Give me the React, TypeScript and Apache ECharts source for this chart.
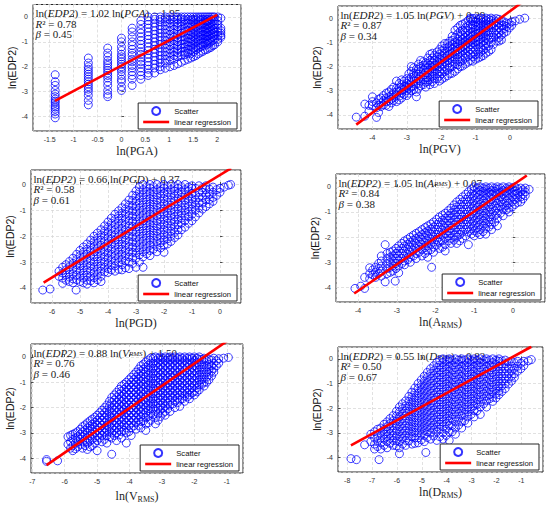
import React, { useEffect, useRef } from "react";
import * as echarts from "echarts";

// ---------- DATA ----------
// Each column: [x, y1, y2, ...]
const pgaCols: number[][] = [
  [-1.386, -2.32, -2.6, -2.75, -2.95, -3.1, -3.2, -3.3, -3.38, -3.45, -3.55, -3.62, -3.7, -3.8, -3.9, -4.05],
  [-0.693, -1.65, -1.85, -2.0, -2.1, -2.2, -2.3, -2.4, -2.5, -2.6, -2.7, -2.8, -2.9, -3.0, -3.15, -3.35, -3.53],
  [-0.288, -1.25, -1.45, -1.6, -1.75, -1.85, -1.95, -2.05, -2.15, -2.25, -2.35, -2.45, -2.6, -2.75, -2.95, -3.1, -3.2],
  [0, -0.85, -1.0, -1.2, -1.35, -1.5, -1.6, -1.7, -1.8, -1.9, -2.0, -2.1, -2.2, -2.35, -2.5, -2.6, -2.8, -2.95],
  [0.223, -0.45, -0.6, -0.8, -1.0, -1.15, -1.3, -1.45, -1.55, -1.7, -1.8, -1.95, -2.05, -2.2, -2.35, -2.5, -2.75],
  [0.405, -0.15, -0.3, -0.5, -0.65, -0.8, -0.95, -1.1, -1.25, -1.4, -1.5, -1.65, -1.8, -1.9, -2.05, -2.2, -2.35, -2.5],
  [0.56, 0, -0.15, -0.3, -0.45, -0.6, -0.75, -0.9, -1.05, -1.2, -1.35, -1.5, -1.65, -1.8, -1.95, -2.1, -2.25, -2.35],
  [0.693, 0, -0.1, -0.25, -0.4, -0.55, -0.7, -0.85, -1.0, -1.15, -1.3, -1.45, -1.6, -1.75, -1.9, -2.05, -2.25],
  [0.811, 0, -0.1, -0.2, -0.35, -0.5, -0.65, -0.8, -0.95, -1.1, -1.25, -1.4, -1.55, -1.7, -1.85, -2.0, -2.12],
  [0.916, 0, -0.08, -0.2, -0.35, -0.5, -0.65, -0.8, -0.95, -1.1, -1.25, -1.4, -1.55, -1.7, -1.85, -2.06],
  [1.012, 0, -0.1, -0.25, -0.4, -0.55, -0.7, -0.85, -1.0, -1.15, -1.3, -1.45, -1.6, -1.75, -2.0],
  [1.099, 0, -0.1, -0.2, -0.35, -0.5, -0.65, -0.8, -0.95, -1.1, -1.25, -1.4, -1.55, -1.7, -1.95],
  [1.179, 0, -0.1, -0.25, -0.4, -0.55, -0.7, -0.85, -1.0, -1.15, -1.3, -1.45, -1.6, -1.88],
  [1.253, 0, -0.08, -0.2, -0.35, -0.5, -0.65, -0.8, -0.95, -1.1, -1.25, -1.4, -1.55, -1.82],
  [1.32, 0, -0.12, -0.28, -0.45, -0.6, -0.78, -0.92, -1.08, -1.22, -1.38, -1.52, -1.75],
  [1.386, 0, -0.1, -0.25, -0.4, -0.55, -0.7, -0.85, -1.0, -1.15, -1.3, -1.45, -1.7],
  [1.447, 0, -0.12, -0.28, -0.42, -0.58, -0.72, -0.88, -1.02, -1.18, -1.32, -1.48, -1.65],
  [1.504, 0, -0.1, -0.2, -0.35, -0.5, -0.65, -0.8, -0.95, -1.1, -1.25, -1.4, -1.6],
  [1.558, 0, -0.12, -0.28, -0.42, -0.58, -0.72, -0.88, -1.02, -1.18, -1.32, -1.55],
  [1.609, 0, -0.08, -0.2, -0.35, -0.5, -0.65, -0.8, -0.95, -1.1, -1.25, -1.48],
  [1.658, 0, -0.12, -0.3, -0.45, -0.6, -0.75, -0.9, -1.05, -1.2, -1.42],
  [1.705, 0, -0.1, -0.25, -0.4, -0.55, -0.7, -0.85, -1.0, -1.15, -1.38],
  [1.749, 0, -0.15, -0.3, -0.45, -0.6, -0.75, -0.9, -1.05, -1.32],
  [1.792, 0, -0.1, -0.2, -0.35, -0.5, -0.65, -0.8, -0.95, -1.1, -1.3],
  [1.833, 0, -0.15, -0.3, -0.45, -0.6, -0.75, -0.9, -1.05, -1.25],
  [1.872, 0, -0.1, -0.25, -0.4, -0.55, -0.7, -0.85, -1.0, -1.22],
  [1.91, 0, -0.18, -0.35, -0.5, -0.65, -0.8, -0.95, -1.15],
  [1.946, 0, -0.15, -0.3, -0.45, -0.6, -0.75, -0.9, -1.12],
  [2.015, 0, -0.15, -0.3, -0.45, -0.6, -0.75, -0.9, -1.0],
  [2.079, -0.05, -0.45, -0.55, -0.65, -0.75, -0.82],
];

const pgvCols: number[][] = [
  [-4.47, -4.09],
  [-4.22, -4.05, -3.55],
  [-4.1, -3.6, -3.85],
  [-4.0, -3.25, -3.45, -3.62],
  [-3.88, -4.1, -3.5, -3.7],
  [-3.82, -3.35, -3.6, -3.9],
  [-3.75, -3.3, -3.5, -3.65],
  [-3.68, -3.2, -3.42, -3.58],
  [-3.6, -3.1, -3.3, -3.45, -3.6],
  [-3.52, -3.05, -3.25, -3.42, -3.65],
  [-3.45, -2.95, -3.2, -3.35, -3.5],
  [-3.38, -2.85, -3.08, -3.28, -3.4],
  [-3.3, -2.6, -2.9, -3.05, -3.2, -3.45],
  [-3.22, -2.7, -2.88, -3.02, -3.22, -3.38],
  [-3.15, -2.55, -2.75, -2.95, -3.1, -3.3],
  [-3.08, -2.6, -2.82, -2.95, -3.15],
  [-3.0, -2.5, -2.7, -2.85, -3.0, -3.2],
  [-2.94, -2.3, -2.55, -2.75, -2.9, -3.1],
  [-2.87, -2.0, -2.2, -2.45, -2.65, -2.85, -3.0],
  [-2.8, -2.05, -2.28, -2.42, -2.6, -2.8, -2.95],
  [-2.72, -2.1, -2.3, -2.5, -2.7, -3.05, -3.25],
  [-2.66, -1.9, -2.12, -2.32, -2.52, -2.7, -2.9],
  [-2.6, -1.75, -2.0, -2.2, -2.4, -2.6, -2.8],
  [-2.52, -1.8, -1.95, -2.15, -2.35, -2.55, -2.75],
  [-2.45, -1.85, -2.05, -2.25, -2.45, -2.65, -2.85],
  [-2.39, -1.65, -1.88, -2.05, -2.25, -2.45, -2.62],
  [-2.33, -1.5, -1.75, -1.95, -2.15, -2.35, -2.55, -2.75],
  [-2.26, -1.45, -1.65, -1.85, -2.02, -2.2, -2.4, -2.62],
  [-2.2, -1.55, -1.75, -1.95, -2.1, -2.3, -2.5, -2.7],
  [-2.12, -1.4, -1.6, -1.78, -1.95, -2.12, -2.3, -2.5],
  [-2.05, -1.3, -1.5, -1.7, -1.85, -2.0, -2.2, -2.4, -2.6],
  [-1.98, -1.15, -1.35, -1.55, -1.72, -1.9, -2.1, -2.3, -2.52],
  [-1.9, -1.05, -1.25, -1.45, -1.65, -1.8, -2.0, -2.2, -2.45],
  [-1.82, -1.05, -1.22, -1.42, -1.58, -1.75, -1.95, -2.15, -2.38],
  [-1.75, -0.95, -1.15, -1.35, -1.5, -1.65, -1.85, -2.05, -2.3],
  [-1.68, -0.75, -0.92, -1.1, -1.28, -1.45, -1.6, -1.8, -2.0, -2.28],
  [-1.6, -0.5, -0.8, -1.0, -1.2, -1.35, -1.5, -1.7, -1.9, -2.2],
  [-1.52, -0.4, -0.65, -0.88, -1.05, -1.18, -1.32, -1.5, -1.7, -1.92, -2.1],
  [-1.45, -0.3, -0.55, -0.75, -0.95, -1.1, -1.25, -1.4, -1.6, -1.8, -2.0],
  [-1.38, -0.25, -0.5, -0.7, -0.88, -1.02, -1.18, -1.35, -1.55, -1.75, -1.98],
  [-1.3, -0.2, -0.4, -0.6, -0.8, -0.95, -1.1, -1.25, -1.45, -1.65, -1.9],
  [-1.22, -0.1, -0.32, -0.52, -0.72, -0.88, -1.02, -1.2, -1.38, -1.58, -1.82],
  [-1.15, 0, -0.05, -0.25, -0.45, -0.65, -0.8, -0.95, -1.1, -1.3, -1.5, -1.75],
  [-1.08, -0.02, -0.12, -0.28, -0.42, -0.58, -0.72, -0.88, -1.02, -1.2, -1.4, -1.6, -1.78],
  [-1.0, 0, -0.15, -0.35, -0.5, -0.65, -0.8, -0.95, -1.1, -1.3, -1.5, -1.7],
  [-0.92, -0.05, -0.2, -0.32, -0.48, -0.62, -0.78, -0.92, -1.08, -1.28, -1.48, -1.65],
  [-0.85, 0, -0.1, -0.25, -0.4, -0.55, -0.7, -0.85, -1.0, -1.2, -1.4, -1.6],
  [-0.78, -0.03, -0.18, -0.32, -0.48, -0.62, -0.78, -0.95, -1.12, -1.32, -1.55],
  [-0.7, 0, -0.1, -0.25, -0.4, -0.55, -0.7, -0.85, -1.05, -1.25, -1.45],
  [-0.62, -0.05, -0.18, -0.32, -0.5, -0.7, -0.9, -1.15, -1.38],
  [-0.55, 0, -0.1, -0.25, -0.4, -0.6, -0.8, -1.0, -1.3],
  [-0.48, -0.06, -0.22, -0.4, -0.6, -0.8, -1.08],
  [-0.4, -0.02, -0.15, -0.3, -0.5, -0.7, -0.95],
  [-0.32, -0.05, -0.2, -0.4, -0.6, -0.8, -0.95],
  [-0.25, -0.1, -0.3, -0.5, -0.7, -0.9],
  [-0.18, -0.15, -0.3, -0.45, -0.62],
  [-0.1, -0.2, -0.35, -0.55],
  [-0.02, -0.22, -0.4],
  [0.05, -0.15, -0.3],
  [0.15, -0.12],
  [0.28, -0.05],
  [0.43, 0],
];

const pgdCols: number[][] = [
  [-6.33, -4.08],
  [-6.07, -4.04],
  [-5.75, -3.35, -3.55],
  [-5.62, -3.2, -3.42, -3.62, -3.82],
  [-5.5, -3.1, -3.3, -3.5, -3.7],
  [-5.38, -2.98, -3.18, -3.38, -3.58, -3.75],
  [-5.25, -2.85, -3.05, -3.25, -3.45, -3.65, -3.8],
  [-5.14, -4.08],
  [-5.12, -2.7, -2.9, -3.1, -3.3, -3.5, -3.68],
  [-5.0, -2.55, -2.75, -2.95, -3.15, -3.35, -3.55, -3.75],
  [-4.88, -2.42, -2.62, -2.82, -3.02, -3.22, -3.42, -3.62, -3.8],
  [-4.75, -2.3, -2.5, -2.7, -2.9, -3.1, -3.3, -3.5, -3.7, -3.85],
  [-4.62, -2.15, -2.35, -2.55, -2.75, -2.95, -3.15, -3.35, -3.55, -3.72],
  [-4.5, -2.0, -2.2, -2.4, -2.6, -2.8, -3.0, -3.2, -3.4, -3.6, -3.8],
  [-4.38, -1.88, -2.08, -2.28, -2.48, -2.68, -2.88, -3.08, -3.28, -3.48, -3.68],
  [-4.25, -1.75, -1.95, -2.15, -2.35, -2.55, -2.75, -2.95, -3.15, -3.35, -3.55, -3.75],
  [-4.12, -1.6, -1.8, -2.0, -2.2, -2.4, -2.6, -2.8, -3.0, -3.2, -3.38],
  [-4.0, -1.45, -1.65, -1.85, -2.05, -2.25, -2.45, -2.65, -2.85, -3.05, -3.25, -3.4],
  [-3.88, -1.3, -1.5, -1.7, -1.9, -2.1, -2.3, -2.5, -2.7, -2.9, -3.1, -3.3],
  [-3.75, -1.15, -1.35, -1.55, -1.75, -1.95, -2.15, -2.35, -2.55, -2.75, -2.95, -3.15, -3.35],
  [-3.62, -1.02, -1.22, -1.42, -1.62, -1.82, -2.02, -2.22, -2.42, -2.62, -2.82, -3.02, -3.28],
  [-3.5, -0.9, -1.1, -1.3, -1.5, -1.7, -1.9, -2.1, -2.3, -2.5, -2.7, -2.9, -3.1, -3.3],
  [-3.38, -0.75, -0.95, -1.15, -1.35, -1.55, -1.75, -1.95, -2.15, -2.35, -2.55, -2.75, -2.95, -3.22],
  [-3.25, -0.6, -0.8, -1.0, -1.2, -1.4, -1.6, -1.8, -2.0, -2.2, -2.4, -2.6, -2.8, -3.0, -3.25],
  [-3.12, -0.42, -0.62, -0.82, -1.02, -1.22, -1.42, -1.62, -1.82, -2.02, -2.22, -2.42, -2.62, -2.82, -3.05],
  [-3.0, -0.25, -0.45, -0.65, -0.85, -1.05, -1.25, -1.45, -1.65, -1.85, -2.05, -2.25, -2.45, -2.65, -2.85, -3.2],
  [-2.88, -0.1, -0.3, -0.5, -0.72, -0.92, -1.12, -1.32, -1.52, -1.72, -1.92, -2.12, -2.32, -2.52, -2.72, -3.0],
  [-2.75, 0, -0.2, -0.4, -0.6, -0.8, -1.0, -1.2, -1.4, -1.6, -1.8, -2.0, -2.2, -2.4, -2.6, -2.8, -3.2],
  [-2.62, -0.08, -0.28, -0.48, -0.68, -0.88, -1.08, -1.28, -1.48, -1.68, -1.88, -2.08, -2.28, -2.48, -2.68],
  [-2.5, 0, -0.15, -0.35, -0.55, -0.75, -0.95, -1.15, -1.35, -1.55, -1.75, -1.95, -2.15, -2.35, -2.55, -2.75],
  [-2.38, -0.08, -0.28, -0.48, -0.68, -0.88, -1.08, -1.28, -1.48, -1.68, -1.88, -2.08, -2.28, -2.5],
  [-2.25, 0, -0.2, -0.4, -0.6, -0.8, -1.0, -1.2, -1.4, -1.6, -1.8, -2.0, -2.2, -2.4, -2.6],
  [-2.12, -0.08, -0.25, -0.45, -0.65, -0.85, -1.05, -1.25, -1.45, -1.65, -1.85, -2.05, -2.25, -2.45],
  [-2.0, 0, -0.15, -0.35, -0.55, -0.75, -0.95, -1.15, -1.35, -1.55, -1.75, -1.95, -2.15, -2.35, -2.62],
  [-1.88, -0.08, -0.3, -0.5, -0.7, -0.9, -1.1, -1.3, -1.5, -1.7, -1.9, -2.1, -2.3],
  [-1.75, 0, -0.2, -0.4, -0.6, -0.8, -1.0, -1.2, -1.4, -1.6, -1.8, -2.0, -2.2],
  [-1.62, -0.08, -0.25, -0.45, -0.65, -0.85, -1.05, -1.25, -1.45, -1.65, -1.85, -2.05],
  [-1.5, 0, -0.15, -0.35, -0.55, -0.75, -0.95, -1.15, -1.35, -1.55, -1.75, -1.95],
  [-1.38, -0.08, -0.3, -0.5, -0.7, -0.9, -1.1, -1.3, -1.5, -1.75],
  [-1.25, 0, -0.2, -0.4, -0.6, -0.8, -1.0, -1.2, -1.4, -1.65],
  [-1.12, -0.1, -0.25, -0.45, -0.65, -0.85, -1.05, -1.25, -1.5],
  [-1.0, -0.05, -0.15, -0.35, -0.55, -0.75, -0.95, -1.15, -1.4],
  [-0.88, -0.15, -0.4, -0.6, -0.8, -1.0, -1.25],
  [-0.75, -0.05, -0.3, -0.5, -0.7, -0.9, -1.1],
  [-0.62, -0.12, -0.3, -0.5, -0.72, -0.95],
  [-0.5, -0.05, -0.2, -0.4, -0.6, -0.85],
  [-0.38, -0.18, -0.38, -0.58, -0.75],
  [-0.25, -0.1, -0.3, -0.5, -0.65],
  [-0.12, -0.2, -0.42],
  [0.0, -0.15, -0.3],
  [0.15, -0.1],
  [0.3, -0.03],
  [0.38, 0],
];

const armsCols: number[][] = [
  [-4.08, -4.04],
  [-3.93, -3.95],
  [-3.83, -4.04, -3.6],
  [-3.7, -3.22, -3.45, -3.65],
  [-3.62, -3.3, -3.5],
  [-3.55, -3.2, -3.4, -3.6],
  [-3.47, -3.05, -3.25, -3.45],
  [-3.4, -2.75, -2.95, -3.15, -3.35, -3.55],
  [-3.3, -2.3, -3.78],
  [-3.25, -2.65, -2.85, -3.05, -3.25, -3.45],
  [-3.17, -2.6, -2.8, -3.0, -3.2, -3.4],
  [-3.1, -2.55, -2.75, -2.95, -3.15, -3.35],
  [-3.04, -3.75],
  [-3.02, -2.45, -2.65, -2.85, -3.05, -3.25],
  [-2.95, -2.35, -2.55, -2.75, -2.95, -3.15, -3.42],
  [-2.87, -2.25, -2.45, -2.65, -2.85, -3.05],
  [-2.8, -2.15, -2.35, -2.55, -2.75, -2.95, -3.1],
  [-2.72, -2.08, -2.28, -2.48, -2.68, -2.9],
  [-2.65, -2.0, -2.2, -2.4, -2.6, -2.8, -3.0],
  [-2.57, -1.92, -2.12, -2.32, -2.52, -2.75],
  [-2.5, -1.85, -2.05, -2.25, -2.45, -2.65, -2.85],
  [-2.42, -1.78, -1.98, -2.18, -2.38, -2.6],
  [-2.35, -1.7, -1.9, -2.1, -2.3, -2.5, -2.75],
  [-2.27, -1.62, -1.82, -2.02, -2.22, -2.42, -2.65],
  [-2.2, -1.55, -1.75, -1.95, -2.15, -2.35, -2.55, -2.8],
  [-2.12, -1.48, -1.68, -1.88, -2.08, -2.28, -2.5],
  [-2.1, -3.2],
  [-2.05, -1.4, -1.6, -1.8, -2.0, -2.2, -2.4, -2.6],
  [-1.97, -1.3, -1.5, -1.7, -1.9, -2.1, -2.32],
  [-1.9, -1.2, -1.4, -1.6, -1.8, -2.0, -2.2, -2.45],
  [-1.82, -1.12, -1.32, -1.52, -1.72, -1.92, -2.15, -2.4],
  [-1.75, -1.05, -1.25, -1.45, -1.65, -1.85, -2.05, -2.3, -2.55],
  [-1.67, -0.95, -1.15, -1.35, -1.55, -1.75, -1.95, -2.15],
  [-1.6, -0.85, -1.05, -1.25, -1.45, -1.65, -1.85, -2.05, -2.25],
  [-1.52, -0.72, -0.92, -1.12, -1.32, -1.52, -1.72, -1.92, -2.12],
  [-1.45, -0.6, -0.8, -1.0, -1.2, -1.4, -1.6, -1.8, -2.0, -2.25],
  [-1.37, -0.5, -0.7, -0.9, -1.1, -1.3, -1.5, -1.7, -1.9, -2.15],
  [-1.3, -0.4, -0.6, -0.8, -1.0, -1.2, -1.4, -1.6, -1.8, -2.05],
  [-1.22, -0.3, -0.5, -0.7, -0.9, -1.1, -1.3, -1.5, -1.7, -1.95],
  [-1.15, -0.2, -0.4, -0.6, -0.8, -1.0, -1.2, -1.4, -1.6, -1.8, -2.3],
  [-1.07, -0.08, -0.28, -0.48, -0.68, -0.88, -1.08, -1.28, -1.48, -1.68, -1.88],
  [-1.0, 0, -0.15, -0.35, -0.55, -0.75, -0.95, -1.15, -1.35, -1.55, -1.75, -1.95],
  [-0.92, -0.05, -0.22, -0.42, -0.62, -0.82, -1.02, -1.22, -1.42, -1.62, -1.82],
  [-0.85, 0, -0.15, -0.3, -0.5, -0.7, -0.9, -1.1, -1.3, -1.5, -1.7, -1.9],
  [-0.77, -0.05, -0.18, -0.35, -0.55, -0.75, -0.95, -1.15, -1.35, -1.55, -1.78],
  [-0.7, 0, -0.1, -0.25, -0.45, -0.65, -0.85, -1.05, -1.25, -1.45, -1.65, -1.88],
  [-0.62, -0.05, -0.22, -0.4, -0.6, -0.8, -1.0, -1.2, -1.4, -1.6],
  [-0.55, 0, -0.15, -0.3, -0.5, -0.7, -0.9, -1.1, -1.3, -1.5, -1.7],
  [-0.47, -0.05, -0.18, -0.35, -0.55, -0.75, -0.95, -1.15, -1.4],
  [-0.4, 0, -0.1, -0.25, -0.45, -0.65, -0.85, -1.05, -1.25, -1.55],
  [-0.32, -0.05, -0.22, -0.4, -0.6, -0.8, -1.05],
  [-0.25, 0, -0.15, -0.3, -0.5, -0.7, -0.9, -1.15],
  [-0.17, -0.05, -0.18, -0.35, -0.55, -0.75, -0.92],
  [-0.1, 0, -0.1, -0.25, -0.45, -0.65, -0.85, -1.0],
  [-0.02, -0.05, -0.22, -0.4, -0.6, -0.8],
  [0.05, 0, -0.15, -0.3, -0.5, -0.7],
  [0.12, -0.08, -0.25, -0.45, -0.62],
  [0.2, -0.05, -0.2, -0.4, -0.6],
  [0.26, -0.12, -0.3, -0.48],
  [0.32, -0.05, -0.2, -0.35],
  [0.42, -0.1],
];

const vrmsCols: number[][] = [
  [-6.56, -4.05, -4.12],
  [-6.22, -4.1],
  [-5.9, -3.15, -3.45],
  [-5.82, -3.1, -3.35, -3.6],
  [-5.75, -3.05, -3.25, -3.5, -3.7],
  [-5.67, -3.0, -3.2, -3.4, -3.62],
  [-5.6, -2.95, -3.15, -3.35, -3.55],
  [-5.52, -2.85, -3.05, -3.25, -3.45],
  [-5.45, -2.75, -2.95, -3.15, -3.35, -3.6],
  [-5.37, -2.68, -2.88, -3.08, -3.28, -3.5],
  [-5.3, -2.6, -2.8, -3.0, -3.2, -3.4, -3.65],
  [-5.22, -2.52, -2.72, -2.92, -3.12, -3.32, -3.55],
  [-5.15, -2.45, -2.65, -2.85, -3.05, -3.25, -3.5],
  [-5.07, -2.38, -2.58, -2.78, -2.98, -3.18, -3.4],
  [-5.0, -2.3, -2.5, -2.7, -2.9, -3.1, -3.3, -3.7],
  [-4.92, -2.2, -2.4, -2.6, -2.8, -3.0, -3.2],
  [-4.85, -2.1, -2.3, -2.5, -2.7, -2.9, -3.1, -3.35],
  [-4.77, -2.0, -2.2, -2.4, -2.6, -2.8, -3.0, -3.25],
  [-4.7, -1.9, -2.1, -2.3, -2.5, -2.7, -2.9, -3.1, -3.4],
  [-4.62, -1.75, -1.95, -2.15, -2.35, -2.55, -2.75, -2.95, -3.15],
  [-4.55, -1.6, -1.8, -2.0, -2.2, -2.4, -2.6, -2.8, -3.0, -3.2, -3.84],
  [-4.47, -1.5, -1.7, -1.9, -2.1, -2.3, -2.5, -2.7, -2.9, -3.1],
  [-4.4, -1.4, -1.6, -1.8, -2.0, -2.2, -2.4, -2.6, -2.8, -3.0, -3.3],
  [-4.32, -1.28, -1.48, -1.68, -1.88, -2.08, -2.28, -2.48, -2.68, -2.88, -3.08],
  [-4.25, -1.15, -1.35, -1.55, -1.75, -1.95, -2.15, -2.35, -2.55, -2.75, -2.95, -3.2],
  [-4.17, -1.08, -1.28, -1.48, -1.68, -1.88, -2.08, -2.28, -2.48, -2.68, -2.9],
  [-4.1, -1.0, -1.2, -1.4, -1.6, -1.8, -2.0, -2.2, -2.4, -2.6, -2.8, -3.0, -3.4],
  [-4.02, -0.9, -1.1, -1.3, -1.5, -1.7, -1.9, -2.1, -2.3, -2.5, -2.7, -2.95],
  [-3.95, -0.8, -1.0, -1.2, -1.4, -1.6, -1.8, -2.0, -2.2, -2.4, -2.6, -2.8, -3.1],
  [-3.87, -0.7, -0.9, -1.1, -1.3, -1.5, -1.7, -1.9, -2.1, -2.3, -2.5, -2.72],
  [-3.8, -0.6, -0.8, -1.0, -1.2, -1.4, -1.6, -1.8, -2.0, -2.2, -2.4, -2.6, -2.85],
  [-3.72, -0.48, -0.68, -0.88, -1.08, -1.28, -1.48, -1.68, -1.88, -2.08, -2.28, -2.48, -2.7],
  [-3.65, -0.35, -0.55, -0.75, -0.95, -1.15, -1.35, -1.55, -1.75, -1.95, -2.15, -2.35, -2.55, -2.8],
  [-3.57, -0.28, -0.48, -0.68, -0.88, -1.08, -1.28, -1.48, -1.68, -1.88, -2.08, -2.28, -2.52],
  [-3.5, -0.2, -0.4, -0.6, -0.8, -1.0, -1.2, -1.4, -1.6, -1.8, -2.0, -2.2, -2.4, -2.65, -2.9],
  [-3.42, -0.12, -0.32, -0.52, -0.72, -0.92, -1.12, -1.32, -1.52, -1.72, -1.92, -2.12, -2.35, -2.6],
  [-3.35, -0.05, -0.25, -0.45, -0.65, -0.85, -1.05, -1.25, -1.45, -1.65, -1.85, -2.05, -2.25, -2.5],
  [-3.27, -0.05, -0.25, -0.45, -0.65, -0.85, -1.05, -1.25, -1.45, -1.65, -1.85, -2.05, -2.28],
  [-3.2, 0, -0.15, -0.35, -0.55, -0.75, -0.95, -1.15, -1.35, -1.55, -1.75, -1.95, -2.15, -2.4, -2.64],
  [-3.12, -0.05, -0.22, -0.42, -0.62, -0.82, -1.02, -1.22, -1.42, -1.62, -1.82, -2.02, -2.25, -2.5],
  [-3.05, 0, -0.1, -0.3, -0.5, -0.7, -0.9, -1.1, -1.3, -1.5, -1.7, -1.9, -2.1, -2.35],
  [-2.97, -0.05, -0.22, -0.42, -0.62, -0.82, -1.02, -1.22, -1.42, -1.62, -1.82, -2.02, -2.22],
  [-2.9, 0, -0.15, -0.35, -0.55, -0.75, -0.95, -1.15, -1.35, -1.55, -1.75, -1.95, -2.15, -2.3],
  [-2.82, -0.05, -0.22, -0.42, -0.62, -0.82, -1.02, -1.22, -1.42, -1.62, -1.82, -2.05],
  [-2.75, 0, -0.1, -0.3, -0.5, -0.7, -0.9, -1.1, -1.3, -1.5, -1.7, -1.9, -2.15],
  [-2.67, -0.05, -0.22, -0.42, -0.62, -0.82, -1.02, -1.22, -1.42, -1.62, -1.85],
  [-2.6, 0, -0.15, -0.35, -0.55, -0.75, -0.95, -1.15, -1.35, -1.55, -1.75, -2.0],
  [-2.52, -0.05, -0.22, -0.42, -0.62, -0.82, -1.02, -1.22, -1.42, -1.62, -1.8],
  [-2.45, 0, -0.1, -0.3, -0.5, -0.7, -0.9, -1.1, -1.3, -1.5, -1.7, -1.95],
  [-2.37, -0.05, -0.22, -0.42, -0.62, -0.82, -1.02, -1.22, -1.42, -1.65],
  [-2.3, 0, -0.15, -0.35, -0.55, -0.75, -0.95, -1.15, -1.35, -1.55, -1.75],
  [-2.22, -0.05, -0.22, -0.42, -0.62, -0.82, -1.02, -1.22, -1.42, -1.58],
  [-2.15, 0, -0.1, -0.3, -0.5, -0.7, -0.9, -1.1, -1.3, -1.5, -1.65],
  [-2.07, -0.05, -0.22, -0.42, -0.62, -0.82, -1.02, -1.22, -1.42],
  [-2.0, 0, -0.15, -0.35, -0.55, -0.75, -0.95, -1.15, -1.35, -1.5],
  [-1.92, -0.05, -0.22, -0.42, -0.62, -0.82, -1.02, -1.22, -1.38],
  [-1.85, 0, -0.1, -0.3, -0.5, -0.7, -0.9, -1.1, -1.3],
  [-1.77, -0.1, -0.3, -0.5, -0.7, -0.9, -1.08],
  [-1.7, -0.05, -0.2, -0.4, -0.6, -0.8, -1.0, -1.15],
  [-1.62, -0.15, -0.38, -0.6, -0.8, -1.0],
  [-1.55, -0.1, -0.3, -0.5, -0.7, -0.9],
  [-1.47, -0.12, -0.35, -0.55, -0.75],
  [-1.4, -0.05, -0.25, -0.45, -0.6],
  [-1.32, -0.15, -0.35],
  [-1.25, -0.07, -0.25],
  [-1.1, -0.05],
  [-0.95, -0.02],
];

const drmsCols: number[][] = [
  [-7.85, -4.04],
  [-7.63, -4.08],
  [-7.3, -3.48],
  [-7.05, -3.05, -3.35],
  [-6.9, -2.95, -3.2, -3.45, -3.65],
  [-6.78, -2.85, -3.1, -3.32, -3.55],
  [-6.72, -4.08],
  [-6.65, -2.8, -3.0, -3.2, -3.4, -3.65],
  [-6.52, -2.65, -2.85, -3.05, -3.25, -3.5],
  [-6.4, -2.55, -2.75, -2.95, -3.15, -3.35, -3.6],
  [-6.28, -2.42, -2.62, -2.82, -3.02, -3.22, -3.42],
  [-6.15, -2.3, -2.5, -2.7, -2.9, -3.1, -3.3, -3.5],
  [-6.02, -2.12, -2.32, -2.52, -2.72, -2.92, -3.12, -3.32, -3.52],
  [-5.9, -1.95, -2.15, -2.35, -2.55, -2.75, -2.95, -3.15, -3.35, -3.6, -3.84],
  [-5.78, -1.82, -2.02, -2.22, -2.42, -2.62, -2.82, -3.02, -3.22, -3.45],
  [-5.65, -1.7, -1.9, -2.1, -2.3, -2.5, -2.7, -2.9, -3.1, -3.3, -3.5],
  [-5.52, -1.52, -1.72, -1.92, -2.12, -2.32, -2.52, -2.72, -2.92, -3.12, -3.32],
  [-5.4, -1.35, -1.55, -1.75, -1.95, -2.15, -2.35, -2.55, -2.75, -2.95, -3.15, -3.45],
  [-5.28, -1.18, -1.38, -1.58, -1.78, -1.98, -2.18, -2.38, -2.58, -2.78, -2.98, -3.2, -3.42],
  [-5.15, -1.0, -1.2, -1.4, -1.6, -1.8, -2.0, -2.2, -2.4, -2.6, -2.8, -3.0, -3.2, -3.4],
  [-5.02, -0.85, -1.05, -1.25, -1.45, -1.65, -1.85, -2.05, -2.25, -2.45, -2.65, -2.85, -3.05, -3.28],
  [-4.9, -0.7, -0.9, -1.1, -1.3, -1.5, -1.7, -1.9, -2.1, -2.3, -2.5, -2.7, -2.9, -3.1, -3.35],
  [-4.84, -3.79],
  [-4.78, -0.55, -0.75, -0.95, -1.15, -1.35, -1.55, -1.75, -1.95, -2.15, -2.35, -2.55, -2.75, -2.95, -3.18],
  [-4.65, -0.4, -0.6, -0.8, -1.0, -1.2, -1.4, -1.6, -1.8, -2.0, -2.2, -2.4, -2.6, -2.8, -3.0, -3.25],
  [-4.52, -0.28, -0.48, -0.68, -0.88, -1.08, -1.28, -1.48, -1.68, -1.88, -2.08, -2.28, -2.48, -2.68, -2.88, -3.12],
  [-4.4, -0.15, -0.35, -0.55, -0.75, -0.95, -1.15, -1.35, -1.55, -1.75, -1.95, -2.15, -2.35, -2.55, -2.75, -2.95, -3.3],
  [-4.28, -0.05, -0.25, -0.45, -0.65, -0.85, -1.05, -1.25, -1.45, -1.65, -1.85, -2.05, -2.25, -2.45, -2.65, -2.85, -3.15],
  [-4.15, 0, -0.15, -0.35, -0.55, -0.75, -0.95, -1.15, -1.35, -1.55, -1.75, -1.95, -2.15, -2.35, -2.55, -2.75, -3.0, -3.25],
  [-4.02, -0.05, -0.22, -0.42, -0.62, -0.82, -1.02, -1.22, -1.42, -1.62, -1.82, -2.02, -2.22, -2.42, -2.62, -2.85, -3.1],
  [-3.9, 0, -0.1, -0.3, -0.5, -0.7, -0.9, -1.1, -1.3, -1.5, -1.7, -1.9, -2.1, -2.3, -2.5, -2.7, -2.95, -3.3],
  [-3.78, -0.05, -0.25, -0.45, -0.65, -0.85, -1.05, -1.25, -1.45, -1.65, -1.85, -2.05, -2.25, -2.45, -2.7, -2.95],
  [-3.65, 0, -0.15, -0.35, -0.55, -0.75, -0.95, -1.15, -1.35, -1.55, -1.75, -1.95, -2.15, -2.35, -2.55, -2.8, -3.05],
  [-3.52, -0.05, -0.22, -0.42, -0.62, -0.82, -1.02, -1.22, -1.42, -1.62, -1.82, -2.02, -2.22, -2.45, -2.68],
  [-3.4, 0, -0.1, -0.3, -0.5, -0.7, -0.9, -1.1, -1.3, -1.5, -1.7, -1.9, -2.1, -2.3, -2.55, -2.8],
  [-3.28, -0.05, -0.25, -0.45, -0.65, -0.85, -1.05, -1.25, -1.45, -1.65, -1.85, -2.05, -2.25, -2.5],
  [-3.15, 0, -0.15, -0.35, -0.55, -0.75, -0.95, -1.15, -1.35, -1.55, -1.75, -1.95, -2.15, -2.35, -2.6],
  [-3.02, -0.05, -0.22, -0.42, -0.62, -0.82, -1.02, -1.22, -1.42, -1.62, -1.82, -2.02, -2.25],
  [-2.9, 0, -0.1, -0.3, -0.5, -0.7, -0.9, -1.1, -1.3, -1.5, -1.7, -1.9, -2.1, -2.35],
  [-2.78, -0.05, -0.25, -0.45, -0.65, -0.85, -1.05, -1.25, -1.45, -1.65, -1.85, -2.1],
  [-2.65, 0, -0.15, -0.35, -0.55, -0.75, -0.95, -1.15, -1.35, -1.55, -1.75, -1.95, -2.25],
  [-2.52, -0.05, -0.22, -0.42, -0.62, -0.82, -1.02, -1.22, -1.42, -1.62, -1.82],
  [-2.4, 0, -0.1, -0.3, -0.5, -0.7, -0.9, -1.1, -1.3, -1.5, -1.7, -1.95],
  [-2.28, -0.05, -0.25, -0.45, -0.65, -0.85, -1.05, -1.25, -1.45, -1.62],
  [-2.15, 0, -0.15, -0.35, -0.55, -0.75, -0.95, -1.15, -1.35, -1.55, -1.72],
  [-2.02, -0.05, -0.22, -0.42, -0.62, -0.82, -1.02, -1.22, -1.4, -1.58],
  [-1.9, 0, -0.1, -0.3, -0.5, -0.7, -0.9, -1.1, -1.3, -1.45],
  [-1.78, -0.08, -0.3, -0.5, -0.7, -0.9, -1.1, -1.32],
  [-1.65, -0.05, -0.2, -0.4, -0.6, -0.8, -1.0, -1.2],
  [-1.52, -0.12, -0.38, -0.6, -0.8, -1.02],
  [-1.4, -0.1, -0.3, -0.5, -0.7, -0.9],
  [-1.28, -0.15, -0.38, -0.6, -0.75],
  [-1.15, -0.1, -0.3, -0.5],
  [-1.02, -0.18, -0.4],
  [-0.9, -0.1, -0.27],
  [-0.72, -0.08],
  [-0.6, -0.03],
];

// Regression line end points
const regPGA = [[-1.39, -3.37], [2.0, 0.08]];
const regPGV = [[-4.47, -4.4], [0.45, 0.76]];
const regPGD = [[-6.3, -3.79], [0.4, 0.63]];
const regARMS = [[-4.1, -4.24], [0.36, 0.45]];
const regVRMS = [[-6.56, -4.27], [-0.85, 0.75]];
const regDRMS = [[-7.85, -3.5], [-0.6, 0.49]];

// Texts
const intensityNames = ["PGA", "PGV", "PGD", "A", "V", "D"];
const intensitySubs = ["", "", "", "RMS", "RMS", "RMS"];
const slopes = ["1.02", "1.05", "0.66", "1.05", "0.88", "0.55"];
const intercepts = ["− 1.95", "+ 0.29", "+ 0.37", "+ 0.07", "+ 1.50", "+ 0.82"];
const r2Values = ["0.78", "0.87", "0.58", "0.84", "0.76", "0.50"];
const betaValues = ["0.45", "0.34", "0.61", "0.38", "0.46", "0.67"];
const yAxisName = "ln(EDP2)";
const legendNames = ["Scatter", "linear regression"];

const allCols = [pgaCols, pgvCols, pgdCols, armsCols, vrmsCols, drmsCols];
const allRegs = [regPGA, regPGV, regPGD, regARMS, regVRMS, regDRMS];

// ---------- LAYOUT ----------
const layout = [
  { left: 33, top: 4.5, width: 208, height: 126.5, xMin: -1.85, xMax: 2.5, xSplit: 9, yMax: 0.5, nameGap: 14 },
  { left: 338, top: 6, width: 204, height: 123, xMin: -5, xMax: 0.93, xSplit: 6, yMax: 0.5, nameGap: 14 },
  { left: 31, top: 170, width: 210, height: 133, xMin: -6.75, xMax: 0.75, xSplit: 7, yMax: 0.56, nameGap: 14 },
  { left: 336, top: 174, width: 209, height: 128, xMin: -4.57, xMax: 0.83, xSplit: 5, yMax: 0.51, nameGap: 13 },
  { left: 31, top: 344, width: 212, height: 129, xMin: -7.04, xMax: -0.5, xSplit: 6, yMax: 0.51, nameGap: 16 },
  { left: 338, top: 347, width: 205, height: 125, xMin: -8.37, xMax: -0.13, xSplit: 8, yMax: 0.48, nameGap: 13 },
];
const Y_MIN = -4.58;
const W = 550;
const H = 506;

const SERIF = "'Liberation Serif', 'Times New Roman', serif";
const SANS = "'Liberation Sans', Arial, Helvetica, sans-serif";
const AX = "#262626";

const toPoints = (cols: number[][]) =>
  cols.flatMap(([x, ...ys]) => ys.map((y) => [x, y]));

function buildOption() {
  const grid: any[] = [];
  const xAxis: any[] = [];
  const yAxis: any[] = [];
  const series: any[] = [];
  const legend: any[] = [];
  const graphic: any[] = [];

  layout.forEach((g, i) => {
    grid.push({
      left: g.left,
      top: g.top,
      width: g.width,
      height: g.height,
      show: true,
      borderColor: AX,
      borderWidth: 1,
      backgroundColor: "transparent",
      containLabel: false,
    });
    const sub = intensitySubs[i];
    const xName = sub
      ? `ln(${intensityNames[i]}{s|${sub}})`
      : `ln(${intensityNames[i]})`;
    xAxis.push({
      type: "value",
      gridIndex: i,
      min: g.xMin,
      max: g.xMax,
      splitNumber: g.xSplit,
      name: xName,
      nameLocation: "middle",
      nameGap: g.nameGap,
      nameTextStyle: {
        fontFamily: SERIF,
        fontSize: 12,
        color: AX,
        rich: {
          s: { fontFamily: SERIF, fontSize: 8, color: AX, padding: [6, 0, 0, 0] },
        },
      },
      axisLine: { show: false },
      axisTick: { show: true, inside: true, length: 2.5, lineStyle: { color: AX, width: 0.8 } },
      axisLabel: {
        fontSize: 7,
        color: "#333",
        fontFamily: SANS,
        margin: 4.5,
        showMinLabel: false,
        showMaxLabel: false,
      },
      splitLine: {
        show: true,
        lineStyle: { color: "#d4d4d4", type: [3, 2], width: 0.7 },
      },
    });
    yAxis.push({
      type: "value",
      gridIndex: i,
      min: Y_MIN,
      max: g.yMax,
      splitNumber: 5,
      name: yAxisName,
      nameLocation: "middle",
      nameGap: 15,
      nameTextStyle: { fontFamily: SANS, fontSize: 10.5, color: "#111" },
      axisLine: { show: false },
      axisTick: { show: true, inside: true, length: 2.5, lineStyle: { color: AX, width: 0.8 } },
      axisLabel: {
        fontSize: 7,
        color: "#333",
        fontFamily: SANS,
        margin: 5,
        showMinLabel: false,
        showMaxLabel: false,
      },
      splitLine: {
        show: true,
        lineStyle: { color: "#d4d4d4", type: [3, 2], width: 0.7 },
      },
    });
    series.push({
      type: "scatter",
      name: legendNames[0],
      xAxisIndex: i,
      yAxisIndex: i,
      data: toPoints(allCols[i]),
      symbol: "circle",
      symbolSize: 8,
      itemStyle: { color: "rgba(255,255,255,0)", borderColor: "#0000ff", borderWidth: 0.95 },
      silent: true,
      z: 2,
    });
    series.push({
      type: "line",
      name: legendNames[1],
      xAxisIndex: i,
      yAxisIndex: i,
      data: allRegs[i],
      symbol: "none",
      lineStyle: { color: "#ff0000", width: 2.6 },
      itemStyle: { color: "#ff0000" },
      clip: true,
      silent: true,
      z: 3,
    });
    legend.push({
      show: true,
      orient: "vertical",
      right: W - (g.left + g.width) + 4,
      bottom: H - (g.top + g.height) + 2,
      data: [
        { name: legendNames[0], icon: "circle" },
        { name: legendNames[1], icon: "path://M0,0H26V2.6H0Z" },
      ],
      itemWidth: 26,
      itemHeight: 8,
      itemGap: 2,
      padding: [3, 6, 3, 5],
      borderColor: AX,
      borderWidth: 1,
      borderRadius: 0,
      backgroundColor: "#ffffff",
      selectedMode: false,
      textStyle: { fontSize: 7.7, color: "#111", fontFamily: SANS },
      z: 10,
    });
    const nameToken = sub
      ? `{i|${intensityNames[i]}}{s|${sub}}`
      : `{i|${intensityNames[i]}}`;
    const eq =
      `{n|ln(}{i|EDP2}{n|) = ${slopes[i]} ln(}${nameToken}{n|) ${intercepts[i]}}\n` +
      `{i|R}{n|² = ${r2Values[i]}}\n` +
      `{i|β}{n| = ${betaValues[i]}}`;
    graphic.push({
      type: "text",
      x: g.left + 2.5,
      y: g.top + 3.5,
      z: 1,
      silent: true,
      style: {
        text: eq,
        fontFamily: SERIF,
        fontSize: 11,
        lineHeight: 10.5,
        fill: "#1a1a1a",
        rich: {
          n: { fontFamily: SERIF, fontSize: 11, fill: "#1a1a1a", lineHeight: 10.5 },
          i: { fontFamily: SERIF, fontSize: 11, fontStyle: "italic", fill: "#1a1a1a", lineHeight: 10.5 },
          s: { fontFamily: SERIF, fontSize: 7, fontStyle: "italic", fill: "#1a1a1a", padding: [3, 0, 0, 0], lineHeight: 10.5 },
        },
      },
    });
  });

  return {
    animation: false,
    backgroundColor: "#ffffff",
    grid,
    xAxis,
    yAxis,
    series,
    legend,
    graphic,
  };
}

export default function App() {
  const ref = useRef<HTMLDivElement | null>(null);
  useEffect(() => {
    if (!ref.current) return;
    const chart = echarts.init(ref.current, undefined, { renderer: "svg" });
    chart.setOption(buildOption() as any);
    return () => {
      chart.dispose();
    };
  }, []);
  return (
    <div
      ref={ref}
      style={{ position: "absolute", left: 0, top: 0, width: W, height: H }}
    />
  );
}
